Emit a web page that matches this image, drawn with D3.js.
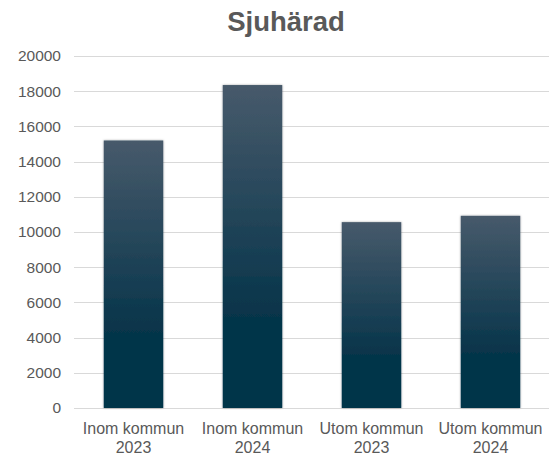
<!DOCTYPE html>
<html>
<head>
<meta charset="utf-8">
<script src="https://cdn.jsdelivr.net/npm/d3@7"></script>
<style>
  body { margin: 0; background: #fff; }
  text { font-family: "Liberation Sans", Arial, sans-serif; fill: #595959; }
</style>
</head>
<body>
<div id="chart"></div>
<script>
// data
var categories = ["Inom kommun|2023", "Inom kommun|2024", "Utom kommun|2023", "Utom kommun|2024"];
var values = [15200, 18350, 10560, 10920];
var yTicks = [0, 2000, 4000, 6000, 8000, 10000, 12000, 14000, 16000, 18000, 20000];
var title = "Sjuhärad";

var width = 549, height = 457;
var margin = { top: 56, right: -1, bottom: 49, left: 74 };

var svg = d3.select("#chart")
  .append("svg")
    .attr("width", width)
    .attr("height", height);

var defs = svg.append("defs");
var grad = defs.append("linearGradient")
    .attr("id", "barGrad")
    .attr("x1", 0).attr("y1", 0).attr("x2", 0).attr("y2", 1);
grad.append("stop").attr("offset", "0%").attr("stop-color", "#475a6b");
grad.append("stop").attr("offset", "72%").attr("stop-color", "#06344a");
grad.append("stop").attr("offset", "100%").attr("stop-color", "#05344a");

var shadow = defs.append("filter").attr("id", "shadow")
    .attr("x", "-20%").attr("y", "-10%").attr("width", "140%").attr("height", "120%");
shadow.append("feDropShadow")
    .attr("dx", 0).attr("dy", 0).attr("stdDeviation", 1.2)
    .attr("flood-color", "#000").attr("flood-opacity", 0.35);

var x = d3.scaleBand()
    .domain(categories)
    .range([margin.left, width - margin.right])
    .paddingInner(0.5)
    .paddingOuter(0.25);

var y = d3.scaleLinear()
    .domain([0, 20000])
    .range([height - margin.bottom, margin.top]);

// gridlines
svg.append("g")
  .selectAll("line")
  .data(yTicks)
  .enter()
  .append("line")
    .attr("x1", margin.left)
    .attr("x2", width - margin.right)
    .attr("y1", function(d){ return Math.round(y(d)) + 0.5; })
    .attr("y2", function(d){ return Math.round(y(d)) + 0.5; })
    .attr("stroke", "#d9d9d9")
    .attr("stroke-width", 1);

// y labels
svg.append("g")
  .selectAll("text")
  .data(yTicks)
  .enter()
  .append("text")
    .attr("x", 61)
    .attr("y", function(d){ return y(d); })
    .attr("dy", "0.35em")
    .attr("text-anchor", "end")
    .style("font-size", "15.5px")
    .text(function(d){ return d; });

// bars
svg.append("g")
  .selectAll("rect")
  .data(values)
  .enter()
  .append("rect")
    .attr("x", function(d, i){ return x(categories[i]); })
    .attr("y", function(d){ return y(d); })
    .attr("width", x.bandwidth())
    .attr("height", function(d){ return y(0) - y(d); })
    .attr("fill", "url(#barGrad)")
    .attr("filter", "url(#shadow)");

// category labels
var lab = svg.append("g")
  .selectAll("text")
  .data(categories)
  .enter()
  .append("text")
    .attr("text-anchor", "middle")
    .style("font-size", "16px");
lab.each(function(d){
  var parts = d.split("|");
  var t = d3.select(this);
  var cx = x(d) + x.bandwidth() / 2;
  t.append("tspan").attr("x", cx).attr("y", 434).text(parts[0]);
  t.append("tspan").attr("x", cx).attr("y", 453).text(parts[1]);
});

// title
svg.append("text")
    .attr("x", 286)
    .attr("y", 31)
    .attr("text-anchor", "middle")
    .style("font-size", "27.5px")
    .style("font-weight", "bold")
    .text(title);
</script>
</body>
</html>
